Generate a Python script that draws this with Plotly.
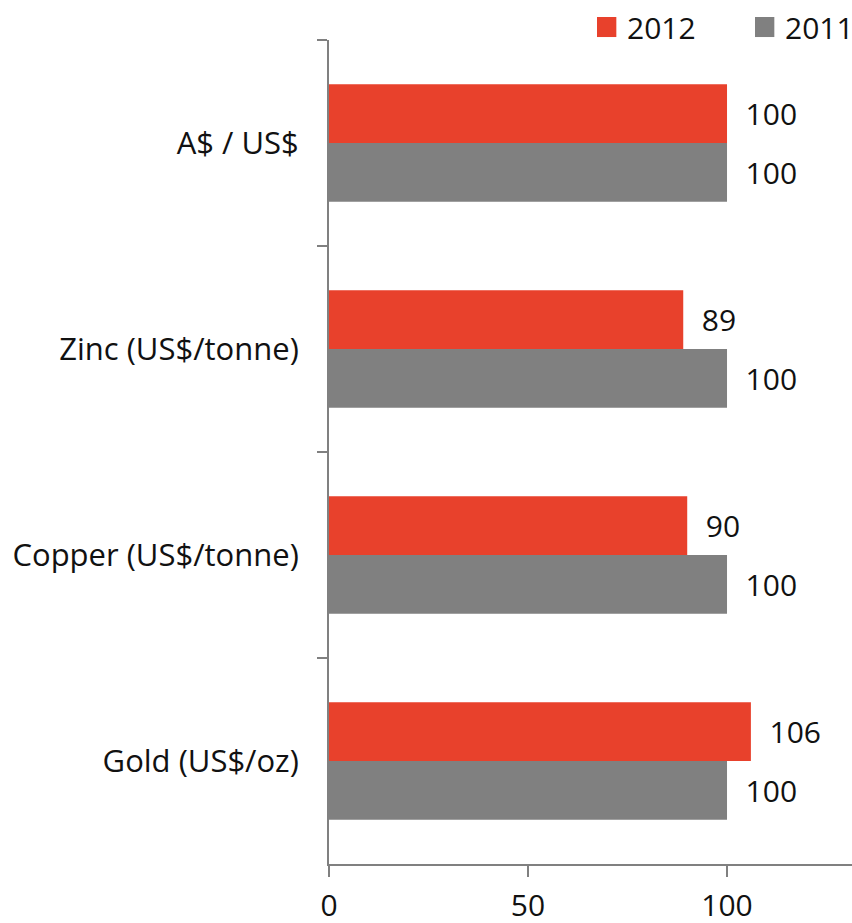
import plotly.graph_objects as go

# Price indices, 2011 = 100
categories = ["A$ / US$", "Zinc (US$/tonne)", "Copper (US$/tonne)", "Gold (US$/oz)"]
values_2012 = [100, 89, 90, 106]
values_2011 = [100, 100, 100, 100]
series_names = ["2012", "2011"]
series_values = [values_2012, values_2011]
series_colors = ["#E8412C", "#808080"]
x_ticks = [0, 50, 100]

AXIS = "#808080"
INK = "#111111"
FONT = "Open Sans"
SIZE = 30

fig = go.Figure()
for name, vals, color in zip(series_names, series_values, series_colors):
    fig.add_trace(go.Bar(
        name=name, y=categories, x=vals, orientation="h",
        marker=dict(color=color, line=dict(width=0)),
        texttemplate="\u00a0\u00a0%{x}", textposition="outside",
        textfont=dict(size=SIZE, color=INK, family=FONT),
        cliponaxis=False, showlegend=False,
    ))

# Legend: square swatches with labels, above the top-right of the plot
swatch_left = [0.5124, 0.8145]
swatch_w, swatch_y0, swatch_y1 = 0.037, 1.0036, 1.0279
for left, name, color in zip(swatch_left, series_names, series_colors):
    fig.add_shape(type="rect", xref="paper", yref="paper",
                  x0=left, x1=left + swatch_w, y0=swatch_y0, y1=swatch_y1,
                  fillcolor=color, line=dict(width=0))
    fig.add_annotation(xref="paper", yref="paper", x=left + swatch_w + 0.016,
                       y=(swatch_y0 + swatch_y1) / 2, text=name, showarrow=False,
                       xanchor="left", yanchor="middle",
                       font=dict(size=SIZE, color=INK, family=FONT))

fig.update_layout(
    width=852, height=923,
    margin=dict(l=329, r=0, t=40, b=59, pad=0),
    paper_bgcolor="white", plot_bgcolor="white",
    barmode="group", bargap=0.43, bargroupgap=0,
    font=dict(family=FONT, size=SIZE, color=INK),
    showlegend=False,
)
fig.update_xaxes(
    range=[0, 131.4], tickmode="array", tickvals=x_ticks,
    ticktext=[str(t) for t in x_ticks], automargin=False,
    showgrid=False, zeroline=False,
    showline=True, linecolor=AXIS, linewidth=2,
    ticks="outside", ticklen=11, tickwidth=2, tickcolor=AXIS,
    tickfont=dict(size=SIZE), ticklabelstandoff=3,
)
fig.update_yaxes(
    autorange="reversed", tickson="boundaries", automargin=False,
    showgrid=False, zeroline=False,
    showline=True, linecolor=AXIS, linewidth=2,
    ticks="outside", ticklen=10, tickwidth=2, tickcolor=AXIS,
    tickfont=dict(size=31), ticklabelstandoff=22,
)

fig.write_html("out.html")
